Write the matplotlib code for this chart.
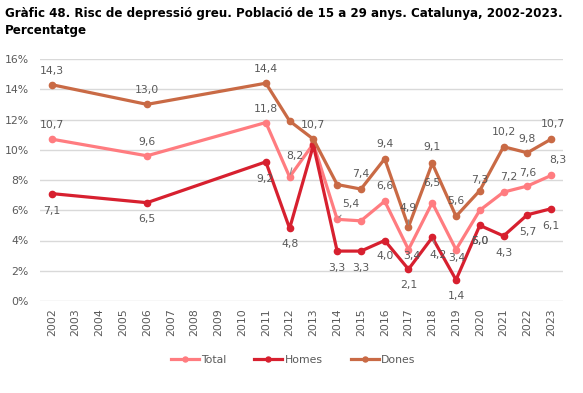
import matplotlib.pyplot as plt

# Data
years = ['2002', '2003', '2004', '2005', '2006', '2007', '2008', '2009', '2010', '2011', '2012',
         '2013', '2014', '2015', '2016', '2017', '2018', '2019', '2020', '2021', '2022', '2023']
data_years = ['2002', '2006', '2011', '2012', '2013', '2014', '2015', '2016', '2017', '2018',
              '2019', '2020', '2021', '2022', '2023']
total = [10.7, 9.6, 11.8, 8.2, 10.4, 5.4, 5.3, 6.6, 3.4, 6.5, 3.4, 6.0, 7.2, 7.6, 8.3]
homes = [7.1, 6.5, 9.2, 4.8, 10.3, 3.3, 3.3, 4.0, 2.1, 4.2, 1.4, 5.0, 4.3, 5.7, 6.1]
dones = [14.3, 13.0, 14.4, 11.9, 10.7, 7.7, 7.4, 9.4, 4.9, 9.1, 5.6, 7.3, 10.2, 9.8, 10.7]

# label offsets in pixels (dx, dy), None = no label, third item = leader line
off_total = [(0, 14), (0, 14), (0, 14), (5, 21, True), None, (14, 15, True), None, (0, 15),
             (3, -6), (0, 20), (1, -8), (0, -31), (5, 15), (0, 13), (7, 15)]
off_homes = [(0, -17), (0, -16), (-1, -17), (0, -16), None, (0, -17), (0, -17), (0, -16),
             (0, -16), (6, -18, True), (0, -16), (0, -16), (0, -17), (0, -17), (0, -17)]
off_dones = [(0, 14), (0, 14), (0, 14), None, (0, 14), None, (0, 15), (0, 15),
             (0, 19, True), (0, 16), (0, 15), (0, 11), (0, 15), (0, 14), (2, 15)]

colors = {'Total': '#FF7C80', 'Homes': '#D7202F', 'Dones': '#C96A45'}

fig = plt.figure(figsize=(5.83, 3.93), dpi=100)
ax = fig.add_axes([40 / 583, 1 - 301 / 393, 523 / 583, 242 / 393])

xpos = [years.index(y) for y in data_years]

for name, vals, offs in [('Total', total, off_total), ('Homes', homes, off_homes),
                         ('Dones', dones, off_dones)]:
    ax.plot(xpos, vals, color=colors[name], lw=2.3, marker='o', ms=4.5, label=name,
            solid_joinstyle='round')
    for x, v, o in zip(xpos, vals, offs):
        if o is None:
            continue
        lbl = f'{v:.1f}'.replace('.', ',')
        kw = {}
        if len(o) > 2:
            kw['arrowprops'] = dict(arrowstyle='-', color='#8C8C8C', lw=0.8,
                                    shrinkA=3, shrinkB=2)
        ax.annotate(lbl, (x, v), xytext=(o[0], o[1]), textcoords='offset pixels',
                    ha='center', va='center', fontsize=7.8, color='#595959', **kw)

ax.set_xlim(-0.5, len(years) - 0.5)
ax.set_ylim(0, 16)
ax.set_yticks(range(0, 17, 2))
ax.set_yticklabels([f'{t}%' for t in range(0, 17, 2)])
ax.set_xticks(range(len(years)))
ax.set_xticklabels(years, rotation=90)
ax.tick_params(axis='both', length=0, labelsize=7.8, labelcolor='#595959')
ax.tick_params(axis='y', pad=8)
ax.tick_params(axis='x', pad=5)
ax.grid(axis='y', color='#D9D9D9', lw=1)
ax.set_axisbelow(True)
for s in ax.spines.values():
    s.set_visible(False)

fig.text(5 / 583, 1 - 22 / 393,
         'Gràfic 48. Risc de depressió greu. Població de 15 a 29 anys. Catalunya, 2002-2023.\nPercentatge',
         fontsize=8.6, fontweight='bold', va='center', ha='left', color='#000000',
         linespacing=1.4)

leg = fig.legend(loc='center', bbox_to_anchor=(293 / 583, 1 - 360 / 393), ncol=3,
                 frameon=False, fontsize=7.8, handlelength=2.6, columnspacing=2.6,
                 handletextpad=0.2, markerscale=0.8)
for t in leg.get_texts():
    t.set_color('#595959')

fig.savefig('out.png', dpi=100)
